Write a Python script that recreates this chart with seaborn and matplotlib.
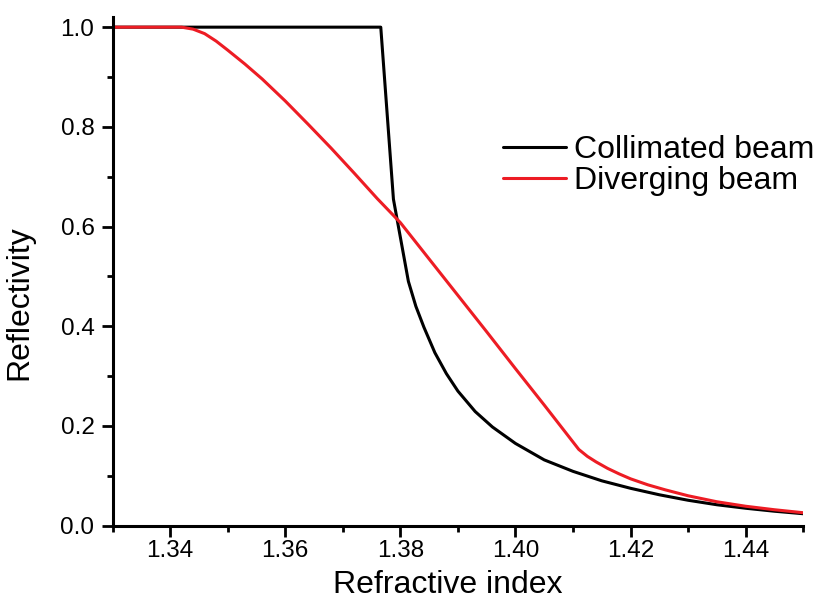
import numpy as np
import pandas as pd
import matplotlib
matplotlib.use("Agg")
import matplotlib.pyplot as plt
import seaborn as sns

# Reflectivity vs refractive index for two illumination conditions
collimated_n = [1.3300, 1.3766, 1.3788, 1.3814, 1.3827, 1.3841, 1.3860, 1.3880,
                1.3900, 1.3930, 1.3960, 1.4000, 1.4050, 1.4100, 1.4150, 1.4200,
                1.4250, 1.4300, 1.4350, 1.4400, 1.4450, 1.4500]
collimated_r = [1.000, 1.000, 0.655, 0.490, 0.440, 0.398, 0.347, 0.305,
                0.270, 0.229, 0.198, 0.165, 0.132, 0.109, 0.090, 0.075,
                0.062, 0.051, 0.042, 0.035, 0.029, 0.024]

diverging_n = [1.3300, 1.3420, 1.3440, 1.3460, 1.3480, 1.3500, 1.3530, 1.3560,
               1.3600, 1.3640, 1.3680, 1.3720, 1.3760, 1.3800, 1.3850, 1.3900,
               1.3950, 1.4000, 1.4050, 1.4110, 1.4125, 1.4140, 1.4160, 1.4180,
               1.4200, 1.4230, 1.4260, 1.4300, 1.4350, 1.4400, 1.4450, 1.4500]
diverging_r = [1.000, 1.000, 0.996, 0.987, 0.972, 0.954, 0.926, 0.896,
               0.852, 0.805, 0.757, 0.707, 0.656, 0.608, 0.535, 0.462,
               0.389, 0.315, 0.242, 0.153, 0.139, 0.128, 0.115, 0.104,
               0.094, 0.082, 0.072, 0.060, 0.048, 0.039, 0.032, 0.026]

series_names = ["Collimated beam", "Diverging beam"]
series_colors = ["#000000", "#ED1C24"]

x_ticks = [1.34, 1.36, 1.38, 1.40, 1.42, 1.44]
y_ticks = [0.0, 0.2, 0.4, 0.6, 0.8, 1.0]

df = pd.concat([
    pd.DataFrame({"n": collimated_n, "R": collimated_r, "beam": series_names[0]}),
    pd.DataFrame({"n": diverging_n, "R": diverging_r, "beam": series_names[1]}),
], ignore_index=True)

sns.set_style("ticks")
plt.rcParams["font.family"] = ["Liberation Sans", "DejaVu Sans"]
plt.rcParams["text.color"] = "black"
plt.rcParams["axes.labelcolor"] = "black"

fig = plt.figure(figsize=(8.16, 6.01), dpi=100)
ax = fig.add_axes([0.1379, 0.1253, 0.8465, 0.8461])

sns.lineplot(data=df, x="n", y="R", hue="beam", hue_order=series_names,
             palette=dict(zip(series_names, series_colors)), linewidth=2.2,
             sort=False, estimator=None, ax=ax)

ax.set_xlim(1.33, 1.45)
ax.set_ylim(0.0, 1.02)
ax.set_xticks(x_ticks)
ax.set_xticklabels([f"{t:.2f}" for t in x_ticks])
ax.set_yticks(y_ticks)
ax.set_yticklabels([f"{t:.1f}" for t in y_ticks])
ax.set_xticks(np.arange(1.33, 1.4501, 0.01), minor=True)
ax.set_yticks(np.arange(0.1, 1.0, 0.2), minor=True)

for side in ["top", "right"]:
    ax.spines[side].set_visible(False)
for side in ["left", "bottom"]:
    ax.spines[side].set_linewidth(2.2)
    ax.spines[side].set_color("black")

ax.tick_params(axis="both", which="major", direction="out", length=8, width=2.0,
               labelsize=17.5, colors="black", labelcolor="black")
ax.tick_params(axis="both", which="minor", direction="out", length=4.5, width=2.0,
               colors="black")
ax.tick_params(axis="x", which="major", pad=2)
ax.tick_params(axis="y", which="major", pad=5)

ax.set_xlabel("Refractive index", fontsize=23, color="black")
ax.set_ylabel("Reflectivity", fontsize=23, color="black")
ax.xaxis.set_label_coords(0.486, -0.088)
ax.yaxis.set_label_coords(-0.113, 0.438)

leg = ax.legend(loc="center left", bbox_to_anchor=(503 / 816, 1 - 165.5 / 601),
                bbox_transform=fig.transFigure, frameon=False, fontsize=23,
                handlelength=1.97, handletextpad=0.25, labelspacing=0.04,
                borderpad=0, borderaxespad=0)
for line in leg.get_lines():
    line.set_linewidth(2.2)
for txt in leg.get_texts():
    txt.set_color("black")

fig.savefig("out.png", dpi=100)
